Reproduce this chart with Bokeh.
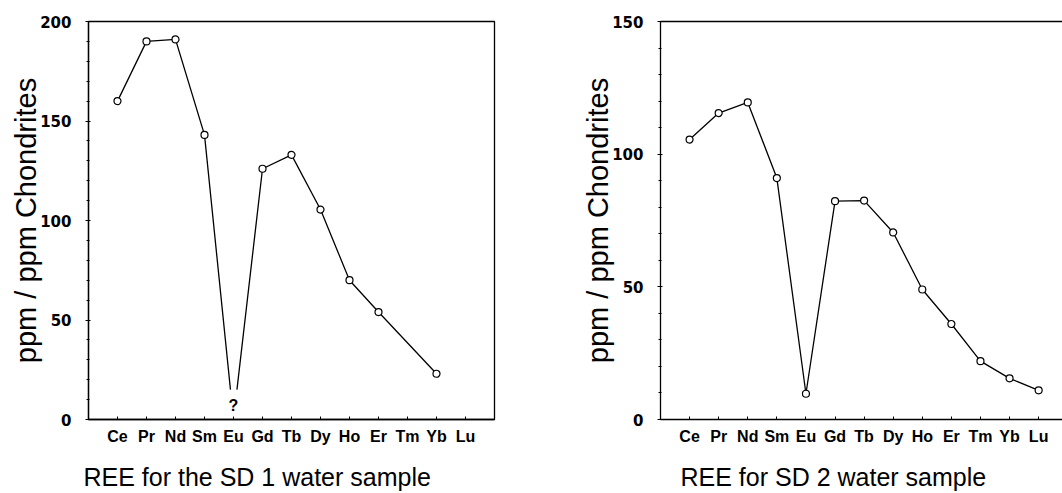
from bokeh.plotting import figure
from bokeh.layouts import row
from bokeh.models import Range1d, FixedTicker, Title, LinearAxis
from bokeh.core.properties import value
from bokeh.embed import file_html
from bokeh.resources import INLINE

# Rare earth elements in chondrite-normalised order
elements = ["Ce", "Pr", "Nd", "Sm", "Eu", "Gd", "Tb", "Dy", "Ho", "Er", "Tm", "Yb", "Lu"]

# SD 1 water sample (Eu undetermined, Tm and Lu not reported)
sd1_elements = ["Ce", "Pr", "Nd", "Sm", "Gd", "Tb", "Dy", "Ho", "Er", "Yb"]
sd1_values = [160, 190, 191, 143, 126, 133, 105.5, 70, 54, 23]
sd1_eu_floor = 0      # level the Eu anomaly lines run toward
sd1_eu_gap = 15       # lines stop at this level around the "?" mark
sd1_eu_mark = 7

# SD 2 water sample
sd2_elements = elements
sd2_values = [105.5, 115.5, 119.5, 91, 9.7, 82.3, 82.5, 70.5, 49, 36, 22, 15.5, 11]

FONT = "Liberation Sans"
pos = {e: i + 1 for i, e in enumerate(elements)}


def style(p, y_ticks):
    p.xgrid.visible = False
    p.ygrid.visible = False
    p.background_fill_color = "white"
    p.border_fill_color = "white"

    xa = p.xaxis[0]
    xa.ticker = FixedTicker(ticks=list(range(1, len(elements) + 1)))
    xa.major_label_overrides = {i + 1: e for i, e in enumerate(elements)}
    xa.major_tick_in = 3
    xa.major_tick_out = 0
    xa.minor_tick_line_color = None
    xa.major_label_standoff = 8
    xa.major_label_text_font = FONT
    xa.major_label_text_font_style = "bold"
    xa.major_label_text_font_size = "16px"
    xa.major_label_text_color = "black"
    # blank label keeps the caption clear of the element names
    xa.axis_label = " "
    xa.axis_label_text_font_size = "5px"
    xa.axis_label_standoff = 3
    xa.axis_line_color = "black"
    xa.axis_line_width = 1.3

    ya = p.yaxis[0]
    ya.ticker = FixedTicker(ticks=y_ticks, minor_ticks=list(range(0, y_ticks[-1] + 1, 10)))
    ya.major_tick_in = 2
    ya.major_tick_out = 3
    ya.minor_tick_in = 1
    ya.minor_tick_out = 2
    ya.major_label_standoff = 14
    ya.major_label_text_font = "DejaVu Sans"
    ya.major_label_text_font_style = "bold"
    ya.major_label_text_font_size = "15px"
    ya.major_label_text_color = "black"
    ya.axis_label = "ppm / ppm Chondrites"
    ya.axis_label_text_font = FONT
    ya.axis_label_text_font_style = "normal"
    ya.axis_label_text_font_size = "29px"
    ya.axis_label_text_color = "black"
    ya.axis_label_standoff = -5
    ya.axis_line_color = "black"
    ya.axis_line_width = 1.3


def caption(text, offset):
    return Title(text=text, align="left", offset=offset, standoff=2,
                 text_font=FONT, text_font_style="normal",
                 text_font_size="25px", text_color="black")


# ---- SD 1 ----
p1 = figure(width=530, height=493, output_backend="svg", toolbar_location=None,
            x_range=Range1d(0, 14), y_range=Range1d(0, 200),
            title=caption("REE for the SD 1 water sample", -5), title_location="below",
            min_border_left=88, min_border_right=36, min_border_top=21, min_border_bottom=74)
style(p1, [0, 50, 100, 150, 200])
p1.outline_line_color = "black"
p1.outline_line_width = 1.3

x1 = [pos[e] for e in sd1_elements]
i_sm = sd1_elements.index("Sm")
i_gd = sd1_elements.index("Gd")
x_eu = pos["Eu"]
# segments toward the Eu anomaly, broken off at the gap level
t_left = (sd1_values[i_sm] - sd1_eu_gap) / (sd1_values[i_sm] - sd1_eu_floor)
t_right = (sd1_values[i_gd] - sd1_eu_gap) / (sd1_values[i_gd] - sd1_eu_floor)
xl = x1[i_sm] + t_left * (x_eu - x1[i_sm])
xr = x1[i_gd] - t_right * (x1[i_gd] - x_eu)

p1.line(x1[:i_sm + 1] + [xl], sd1_values[:i_sm + 1] + [sd1_eu_gap],
        line_color="black", line_width=1.3)
p1.line([xr] + x1[i_gd:], [sd1_eu_gap] + sd1_values[i_gd:],
        line_color="black", line_width=1.3)
p1.scatter(x1, sd1_values, marker="circle", size=7, fill_color="white",
           line_color="black", line_width=1.2)
p1.text(x=[x_eu], y=[sd1_eu_mark], text=["?"], text_align="center",
        text_baseline="alphabetic", text_font=value(FONT), text_font_style="bold",
        text_font_size="16px", text_color="black")

# ---- SD 2 ----
p2 = figure(width=532, height=493, output_backend="svg", toolbar_location=None,
            x_range=Range1d(0, 13.82), y_range=Range1d(0, 150),
            title=caption("REE for SD 2 water sample", 20), title_location="below",
            min_border_left=130, min_border_right=0, min_border_top=20, min_border_bottom=74)
style(p2, [0, 50, 100, 150])
p2.outline_line_color = None
top = LinearAxis(ticker=FixedTicker(ticks=[]), axis_line_color="black", axis_line_width=1.3,
                 major_tick_line_color=None, minor_tick_line_color=None,
                 major_label_text_font_size="0px")
p2.add_layout(top, "above")

x2 = [pos[e] for e in sd2_elements]
p2.line(x2, sd2_values, line_color="black", line_width=1.3)
p2.scatter(x2, sd2_values, marker="circle", size=7, fill_color="white",
           line_color="black", line_width=1.2)

layout = row(p1, p2)
open("out.html", "w").write(file_html(layout, INLINE))
